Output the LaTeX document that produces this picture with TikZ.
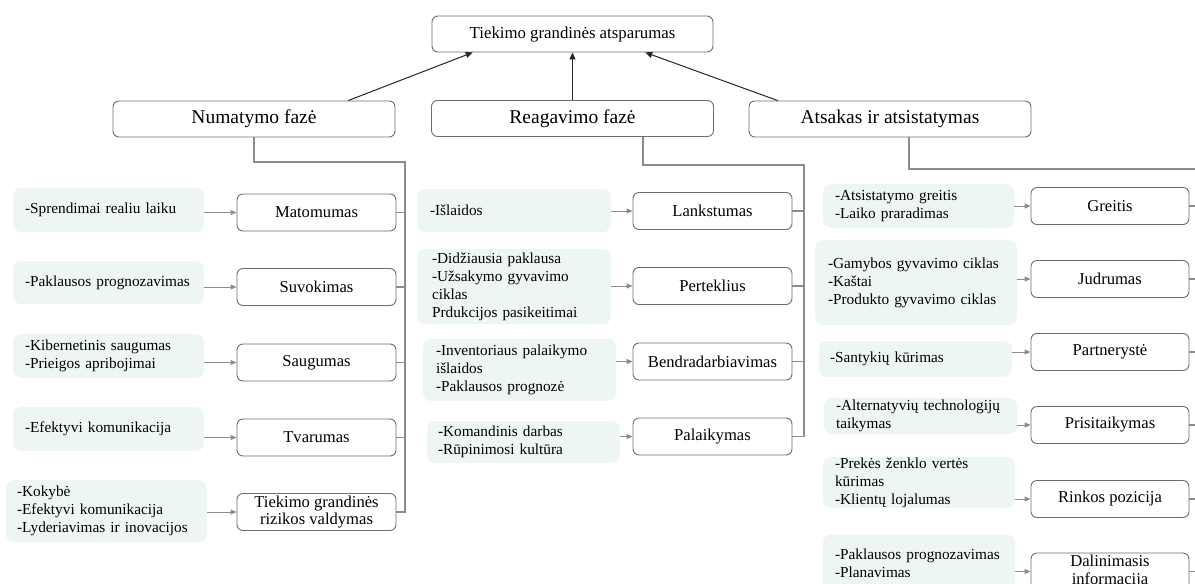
\documentclass[tikz,border=0pt]{standalone}
\usepackage{fontspec}
\setmainfont{Liberation Serif}
\usetikzlibrary{arrows.meta,calc}
\definecolor{boxline}{HTML}{6E6E6E}
\definecolor{treeline}{HTML}{8C8C8C}
\definecolor{mint}{HTML}{EEF6F5}
\begin{document}
\begin{tikzpicture}[x=1pt,y=-1pt,
  rbox/.style={draw=boxline, line width=0.9pt, rounded corners=6pt, fill=white, align=center, inner sep=0pt},
  topbox/.style={rbox, minimum width=281pt, minimum height=36pt, font=\fontsize{16.8}{18}\selectfont},
  phase/.style={rbox, minimum width=282pt, minimum height=36pt, font=\fontsize{19.5}{21}\selectfont},
  kid/.style={rbox, minimum width=159pt, minimum height=37pt, font=\fontsize{16.6}{17.5}\selectfont},
  note/.style={fill=mint, rounded corners=8pt, align=left, inner ysep=0pt, font=\fontsize{15.3}{18}\selectfont,
    execute at begin node={\hyphenpenalty=10000\exhyphenpenalty=10000}},
  tree/.style={draw=treeline, line width=1.1pt},
  arr/.style={draw=treeline, line width=1pt, -{Triangle[length=6pt,width=5pt]}},
  uparr/.style={draw=black!85, line width=1pt, -{Triangle[length=7pt,width=6pt]}},
]
\useasboundingbox (0,0) rectangle (1195,584);
\clip (0,0) rectangle (1195,584);

% top and phases
\node[topbox] (root) at (572.5,34) {Tiekimo grandinės atsparumas};
\node[phase] (num) at (254,119) {Numatymo fazė};
\node[phase] (rea) at (572.5,118.5) {Reagavimo fazė};
\node[phase] (ats) at (890,119) {Atsakas ir atsistatymas};

\draw[uparr] ($(num.north west)!0.833!(num.north east)$) -- ($(root.south west)!0.146!(root.south east)$);
\draw[uparr] (rea.north) -- (rea.north |- root.south);
\draw[uparr] ($(ats.north west)!0.103!(ats.north east)$) -- ($(root.south west)!0.758!(root.south east)$);

% left column
\node[kid] (k1) at (316.5,212.5) {Matomumas};
\node[kid] (k2) at (316.5,287) {Suvokimas};
\node[kid] (k3) at (316.5,362.5) {Saugumas};
\node[kid] (k4) at (316.5,437.5) {Tvarumas};
\node[kid] (k5) at (316.5,512) {Tiekimo grandinės\\rizikos valdymas};

\node[note, minimum height=44pt, text width=167pt, inner xsep=12pt] (n1) at (108.5,210) {-Sprendimai~realiu~laiku};
\node[note, minimum height=43pt, text width=167pt, inner xsep=12pt] (n2) at (108.5,282.5) {-Paklausos~prognozavimas};
\node[note, minimum height=44pt, text width=167pt, inner xsep=12pt] (n3) at (108.5,356) {-Kibernetinis~saugumas\\-Prieigos~apribojimai};
\node[note, minimum height=44pt, text width=167pt, inner xsep=12pt] (n4) at (108.5,429) {-Efektyvi~komunikacija};
\node[note, minimum height=62pt, text width=179pt, inner xsep=11pt] (n5) at (106.5,511) {-Kokybė\\-Efektyvi~komunikacija\\-Lyderiavimas~ir~inovacijos};

\coordinate (nbus) at (405,162);
\draw[tree] (num.south) |- (nbus) -- (nbus |- k5.east) -- (k5.east);
\foreach \k in {k1,k2,k3,k4} \draw[tree] (\k.east) -- (\k.east -| nbus);
\foreach \n/\k in {n1/k1,n2/k2,n3/k3,n4/k4,n5/k5} \draw[arr] (\n.east |- \k.west) -- (\k.west);

% middle column
\node[kid] (m1) at (712.5,211) {Lankstumas};
\node[kid] (m2) at (712.5,286) {Perteklius};
\node[kid] (m3) at (712.5,361.5) {Bendradarbiavimas};
\node[kid] (m4) at (712.5,436.5) {Palaikymas};

\node[note, minimum height=43pt, text width=168pt, inner xsep=13pt] (p1) at (514,210.5) {-Išlaidos};
\node[note, minimum height=75pt, text width=164pt, inner xsep=15pt] (p2) at (514,286.5) {-Didžiausia~paklausa\\-Užsakymo~gyvavimo\\ciklas\\Prdukcijos~pasikeitimai};
\node[note, minimum height=62pt, text width=167pt, inner xsep=13pt] (p3) at (519.5,370) {-Inventoriaus~palaikymo\\išlaidos\\-Paklausos~prognozė};
\node[note, minimum height=42pt, text width=171pt, inner xsep=11pt] (p4) at (523.5,442) {-Komandinis~darbas\\-Rūpinimosi~kultūra};

\coordinate (rx) at (643,0);
\coordinate (rbus) at (804,165);
\draw[tree] (rea.south -| rx) |- (rbus) -- (rbus |- m4.east) -- (m4.east);
\foreach \k in {m1,m2,m3} \draw[tree] (\k.east) -- (\k.east -| rbus);
\foreach \n/\k in {p1/m1,p2/m2,p3/m3,p4/m4} \draw[arr] (\n.east |- \k.west) -- (\k.west);

% right column
\node[kid, minimum width=158pt] (r1) at (1110,206) {Greitis};
\node[kid, minimum width=158pt] (r2) at (1110,279) {Judrumas};
\node[kid, minimum width=158pt] (r3) at (1110,352) {Partnerystė};
\node[kid, minimum width=158pt] (r4) at (1110,425) {Prisitaikymas};
\node[kid, minimum width=158pt] (r5) at (1110,499) {Rinkos pozicija};
\node[kid, minimum width=158pt] (r6) at (1110,571.5) {Dalinimasis\\informacija};

\node[note, minimum height=44pt, text width=167pt, inner xsep=12pt] (q1) at (918.5,206) {-Atsistatymo~greitis\\-Laiko~praradimas};
\node[note, minimum height=85pt, text width=176pt, inner xsep=13pt] (q2) at (916,282.5) {-Gamybos~gyvavimo~ciklas\\-Kaštai\\-Produkto~gyvavimo~ciklas};
\node[note, minimum height=36pt, text width=171pt, inner xsep=11pt] (q3) at (915.5,359) {-Santykių~kūrimas};
\node[note, minimum height=36pt, text width=169pt, inner xsep=12pt] (q4) at (920.5,416) {-Alternatyvių~technologijų\\taikymas};
\node[note, minimum height=51pt, text width=168pt, inner xsep=12pt] (q5) at (919,482.5) {-Prekės~ženklo~vertės\\kūrimas\\-Klientų~lojalumas};
\node[note, minimum height=57pt, text width=168pt, inner xsep=12pt] (q6) at (919,563) {-Paklausos~prognozavimas\\-Planavimas};

\coordinate (ax) at (909,0);
\coordinate (abus) at (1203,169);
\draw[tree] (ats.south -| ax) |- (abus) -- (abus |- r6.east);
\foreach \k in {r1,r2,r3,r4,r5,r6} \draw[tree] (\k.east) -- (\k.east -| abus);
\foreach \n/\k in {q1/r1,q2/r2,q3/r3,q4/r4,q5/r5,q6/r6} \draw[arr] (\n.east |- \k.west) -- (\k.west);
\end{tikzpicture}
\end{document}
